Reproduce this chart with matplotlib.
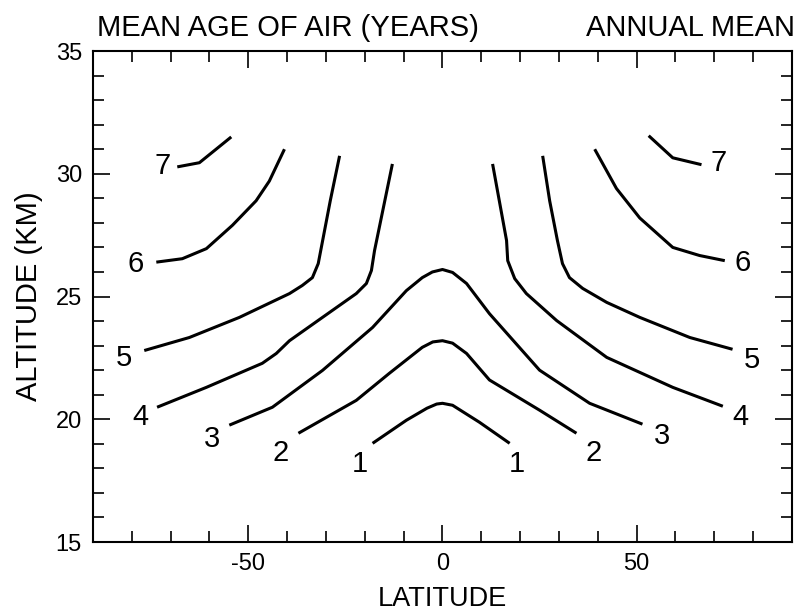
import matplotlib
matplotlib.use("Agg")
import matplotlib.pyplot as plt
from matplotlib.ticker import MultipleLocator

plt.rcParams["font.family"] = ["Liberation Sans", "DejaVu Sans"]
plt.rcParams["axes.unicode_minus"] = False

# 数据: 各条等值线 (纬度, 高度)
lat_1 = [-18.0, -9.3, -4.0, -1.5, 0.0, 2.6, 9.5, 17.3]
alt_1 = [19.02, 19.96, 20.45, 20.62, 20.65, 20.57, 19.88, 19.02]

lat_2 = [-37.1, -22.2, -13.7, -5.2, -2.5, 0.0, 2.6, 6.2, 12.1, 25.0, 34.5]
alt_2 = [19.43, 20.77, 21.87, 22.93, 23.15, 23.2, 23.1, 22.68, 21.6, 20.37, 19.43]

lat_3 = [-54.9, -43.8, -30.9, -18.0, -9.3, -5.2, -2.6, 0.0, 2.6, 6.2, 12.1, 25.0, 37.9, 51.5]
alt_3 = [19.76, 20.49, 21.99, 23.74, 25.24, 25.77, 26.0, 26.1, 25.98, 25.53, 24.3, 22.0, 20.65, 19.8]

lat_4_s = [-73.5, -60.8, -46.4, -42.8, -39.4, -30.9, -22.2, -19.6, -18.3, -17.5, -12.9]
alt_4_s = [20.49, 21.3, 22.28, 22.68, 23.2, 24.15, 25.12, 25.53, 26.06, 26.87, 30.4]
lat_4_n = [12.9, 16.5, 16.8, 18.6, 21.6, 29.4, 42.3, 59.3, 72.2]
alt_4_n = [30.4, 27.28, 26.46, 25.73, 25.12, 24.02, 22.52, 21.3, 20.53]

lat_5_s = [-76.8, -65.2, -52.3, -39.4, -36.1, -33.5, -32.0, -31.2, -28.9, -26.5]
alt_5_s = [22.8, 23.33, 24.15, 25.12, 25.45, 25.77, 26.34, 27.0, 28.9, 30.73]
lat_5_n = [25.8, 27.6, 29.6, 30.9, 32.7, 36.1, 42.3, 50.8, 63.7, 74.7]
alt_5_n = [30.73, 28.9, 27.28, 26.34, 25.77, 25.33, 24.76, 24.15, 23.33, 22.85]

lat_6_s = [-73.7, -67.0, -60.8, -54.1, -48.0, -44.6, -40.7]
alt_6_s = [26.4, 26.54, 26.95, 27.9, 28.9, 29.7, 31.0]
lat_6_n = [39.2, 44.8, 50.8, 59.3, 66.2, 72.7]
alt_6_n = [31.0, 29.4, 28.2, 27.0, 26.67, 26.46]

lat_7_s = [-68.3, -62.6, -58.3, -54.4]
alt_7_s = [30.28, 30.45, 31.0, 31.5]
lat_7_n = [53.1, 59.3, 66.7]
alt_7_n = [31.55, 30.65, 30.37]

curves = [(lat_1, alt_1), (lat_2, alt_2), (lat_3, alt_3),
          (lat_4_s, alt_4_s), (lat_4_n, alt_4_n),
          (lat_5_s, alt_5_s), (lat_5_n, alt_5_n),
          (lat_6_s, alt_6_s), (lat_6_n, alt_6_n),
          (lat_7_s, alt_7_s), (lat_7_n, alt_7_n)]

# 等值线标注
label_text = ["1", "1", "2", "2", "3", "3", "4", "4", "5", "5", "6", "6", "7", "7"]
label_lat = [-21.4, 19.2, -41.6, 38.9, -59.4, 56.6, -77.8, 76.7, -82.0, 79.8, -79.0, 77.4, -72.0, 71.0]
label_alt = [18.17, 18.17, 18.62, 18.62, 19.19, 19.3, 20.1, 20.1, 22.5, 22.4, 26.34, 26.38, 30.3, 30.43]

fig = plt.figure(figsize=(7.99, 6.16), dpi=100)
ax = fig.add_axes([0.1164, 0.1201, 0.8748, 0.7971])

for x, y in curves:
    ax.plot(x, y, color="black", lw=2.2, solid_capstyle="butt", solid_joinstyle="round")

for t, x, y in zip(label_text, label_lat, label_alt):
    ax.text(x, y, t, fontsize=21, ha="center", va="center")

ax.set_xlim(-90, 90)
ax.set_ylim(15, 35)
ax.set_xticks([-50, 0, 50])
ax.set_yticks([15, 20, 25, 30, 35])
ax.xaxis.set_minor_locator(MultipleLocator(10))
ax.yaxis.set_minor_locator(MultipleLocator(1))
ax.tick_params(which="both", direction="in", top=True, right=True, labelsize=17, width=1.2, pad=8)
ax.tick_params(which="major", length=12)
ax.tick_params(which="minor", length=8)
for s in ax.spines.values():
    s.set_linewidth(1.5)

ax.set_xlabel("LATITUDE", fontsize=19.5, labelpad=8)
ax.set_ylabel("ALTITUDE (KM)", fontsize=21, labelpad=9)

ax.text(0.006, 1.03, "MEAN AGE OF AIR (YEARS)", transform=ax.transAxes, fontsize=21, ha="left", va="baseline")
ax.text(1.004, 1.03, "ANNUAL MEAN", transform=ax.transAxes, fontsize=21, ha="right", va="baseline")

fig.savefig("out.png", dpi=100)
